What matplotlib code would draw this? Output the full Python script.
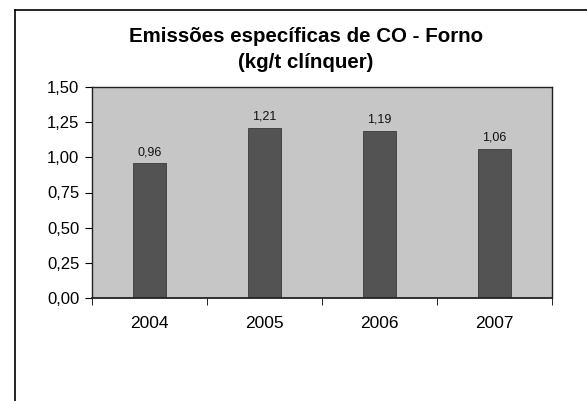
import numpy as np
import matplotlib
matplotlib.use("Agg")
from matplotlib import pyplot as plt
from matplotlib.lines import Line2D

years = ["2004", "2005", "2006", "2007"]
values = [0.96, 1.21, 1.19, 1.06]
value_labels = ["0,96", "1,21", "1,19", "1,06"]
yticks = [0.0, 0.25, 0.5, 0.75, 1.0, 1.25, 1.5]
ytick_labels = ["0,00", "0,25", "0,50", "0,75", "1,00", "1,25", "1,50"]

plt.rcParams['font.family'] = ['Liberation Sans', 'DejaVu Sans']

W, H = 587, 401
fig = plt.figure(figsize=(W/100, H/100), dpi=100)
fig.patch.set_facecolor('white')

# axes box in pixels: left 92, right 552, top 87, bottom 298
ax = fig.add_axes([92/W, 1-298/H, (552-92)/W, (298-87)/H])
ax.set_facecolor('#c6c6c6')

x = np.arange(len(years))
ax.bar(x, values, width=0.28, color='#535353', edgecolor='#3a3a3a', linewidth=0.6, zorder=2)
for xi, v, lab in zip(x, values, value_labels):
    ax.text(xi, v + 0.035, lab, ha='center', va='bottom', fontsize=9, color='#111111')

ax.set_xlim(-0.5, len(years) - 0.5)
ax.set_ylim(0, 1.5)
ax.set_yticks(yticks)
ax.set_yticklabels(ytick_labels, fontsize=12)
ax.set_xticks(x)
ax.set_xticklabels(years, fontsize=12.5)
ax.tick_params(axis='x', length=0, pad=13)
ax.tick_params(axis='y', length=5, direction='out', pad=4)
# category boundary ticks on x axis
ax.set_xticks(np.arange(len(years) + 1) - 0.5, minor=True)
ax.tick_params(axis='x', which='minor', length=5, direction='out')

for s in ax.spines.values():
    s.set_color('#222222')
    s.set_linewidth(1.0)
ax.spines['bottom'].set_linewidth(1.3)

fig.text(306/W, 1-36/H, "Emissões específicas de CO - Forno",
         ha='center', va='center', fontsize=14.8, fontweight='bold')
fig.text(306/W, 1-62/H, "(kg/t clínquer)",
         ha='center', va='center', fontsize=14.8, fontweight='bold')

# outer frame lines
fig.add_artist(Line2D([15/W, 15/W], [0, 1-10/H], transform=fig.transFigure, color='black', linewidth=1.2))
fig.add_artist(Line2D([15/W, 1], [1-10/H, 1-10/H], transform=fig.transFigure, color='black', linewidth=1.2))

plt.savefig("out.png", dpi=100)
